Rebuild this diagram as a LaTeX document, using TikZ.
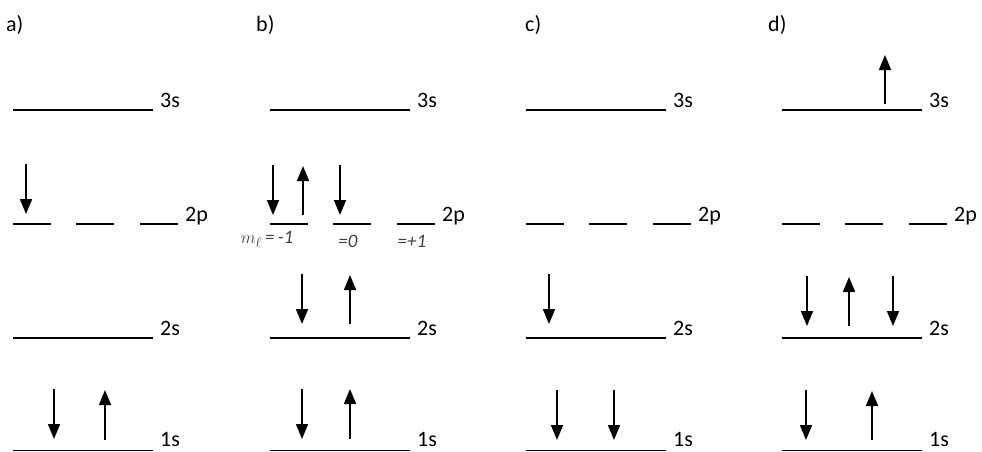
\documentclass[tikz,border=0pt]{standalone}
\usepackage{fontspec}
\setmainfont{Carlito}
\usetikzlibrary{arrows.meta}

\begin{document}
\begin{tikzpicture}[
    x=1pt, y=-1pt,
    level/.style={line width=1.7pt},
    lab/.style={anchor=base west, inner sep=0pt, font=\fontsize{22}{24}\selectfont},
    spin/.style={line width=1.7pt, -{Triangle[width=12pt,length=15pt]}},
    hand/.style={inner sep=0pt, font=\fontsize{19}{20}\selectfont\itshape, black!75},
]
    \useasboundingbox (0,0) rectangle (982,451);

    % panel titles
    \node[lab, anchor=west] (ta) at (6,25) {a)};
    \node[lab, anchor=west] (tb) at (256,25) {b)};
    \node[lab, anchor=west] (tc) at (525,25) {c)};
    \node[lab, anchor=west] (td) at (768,25) {d)};

    % levels, same in every panel
    \foreach \p/\px in {a/13, b/270, c/526, d/782} {
        \begin{scope}[xshift=\px pt]
            \draw[level] (0,110) -- (140,110);
            \node[lab] (\p3s) at (147,107) {3s};
            \draw[level] (0,224) -- (38,224);
            \draw[level] (63,224) -- (101,224);
            \draw[level] (127,224) -- (165,224);
            \node[lab] (\p2p) at (172,221) {2p};
            \draw[level] (0,338) -- (140,338);
            \node[lab] (\p2s) at (147,335) {2s};
            \draw[level] (0,450.5) -- (140,450.5);
            \node[lab] (\p1s) at (147,446) {1s};
        \end{scope}
    }

    % a)
    \draw[spin] (26,164) -- (26,214);
    \draw[spin] (54,389) -- (54,439);
    \draw[spin] (105,440) -- (105,390);

    % b)
    \draw[spin] (273,165) -- (273,215);
    \draw[spin] (303,215) -- (303,166);
    \draw[spin] (340,165) -- (340,215);
    \draw[spin] (302,274) -- (302,324);
    \draw[spin] (350,324) -- (350,275);
    \draw[spin] (302,389) -- (302,439);
    \draw[spin] (350,439) -- (350,389);
    \node[hand] (ml1) at (267,239) {$m_\ell$\,=\,-1};
    \node[hand] (ml0) at (348,241) {=0};
    \node[hand] (ml2) at (412,241) {=+1};

    % c)
    \draw[spin] (549,274) -- (549,324);
    \draw[spin] (557,390) -- (557,440);
    \draw[spin] (614,390) -- (614,440);

    % d)
    \draw[spin] (885,104) -- (885,55);
    \draw[spin] (807,276) -- (807,326);
    \draw[spin] (849,326) -- (849,277);
    \draw[spin] (893,276) -- (893,326);
    \draw[spin] (806,390) -- (806,440);
    \draw[spin] (872,440) -- (872,391);
\end{tikzpicture}
\end{document}
